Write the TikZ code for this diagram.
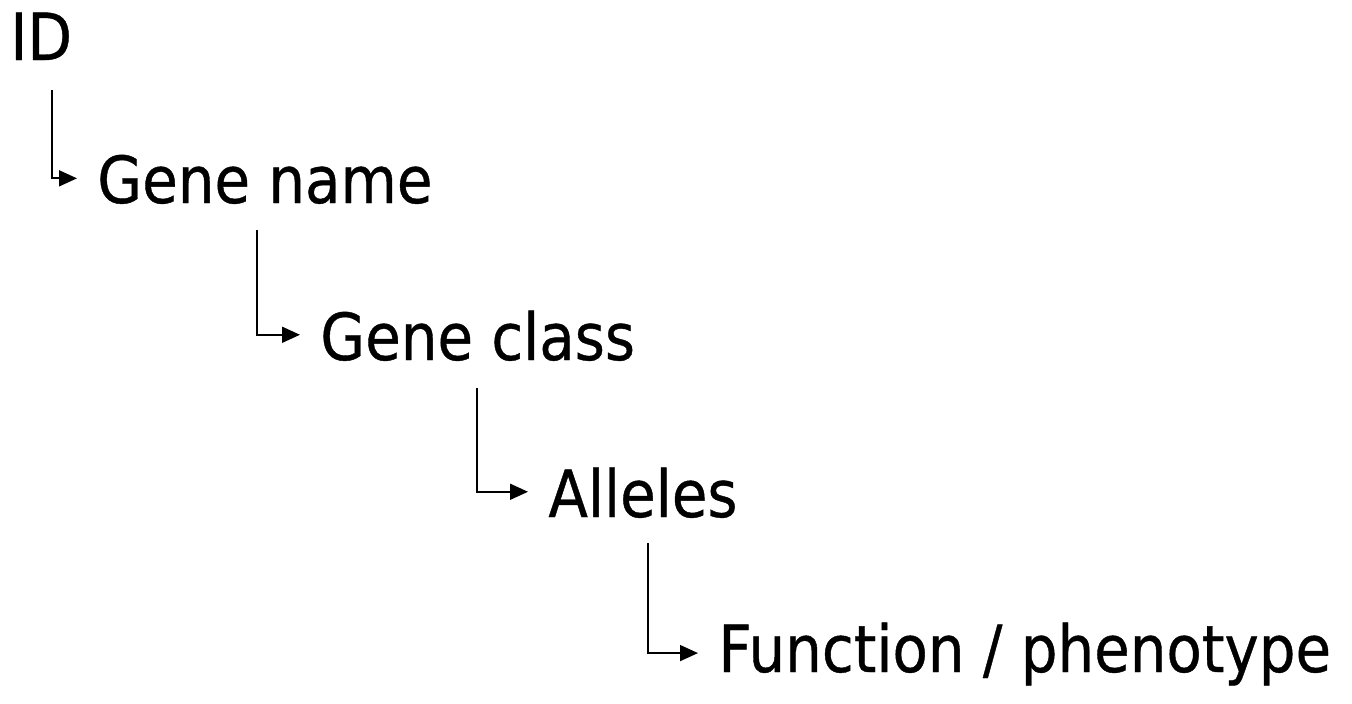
\documentclass[tikz,border=0pt]{standalone}
\usepackage{fontspec}
\setmainfont[FakeStretch=0.89,FakeBold=0.6]{DejaVu Sans}
\usetikzlibrary{arrows.meta}
\begin{document}
\begin{tikzpicture}[x=0.5pt,y=-0.5pt,
  lbl/.style={anchor=base west,inner sep=0pt,font=\fontsize{32.5}{36}\selectfont},
  arr/.style={line width=0.85pt,-{Triangle[length=9pt,width=8pt]}}]
\useasboundingbox (0,0) rectangle (1352,703);
\node[lbl] (id) at (10,60) {ID};
\node[lbl] (gn) at (97,203) {Gene name};
\node[lbl] (gc) at (320,360) {Gene class};
\node[lbl] (al) at (548,517) {Alleles};
\node[lbl] (fp) at (718,672) {Function / phenotype};
\coordinate (s1) at (52,90);
\coordinate (s2) at (257,230);
\coordinate (s3) at (477,388);
\coordinate (s4) at (648,543);
\draw[arr] (s1) |- ([xshift=-10pt,yshift=0.5pt]gn.west);
\draw[arr] (s2) |- ([xshift=-10pt,yshift=0.5pt]gc.west);
\draw[arr] (s3) |- ([xshift=-10pt,yshift=0.5pt]al.west);
\draw[arr] (s4) |- ([xshift=-10pt,yshift=0.5pt]fp.west);
\end{tikzpicture}
\end{document}
